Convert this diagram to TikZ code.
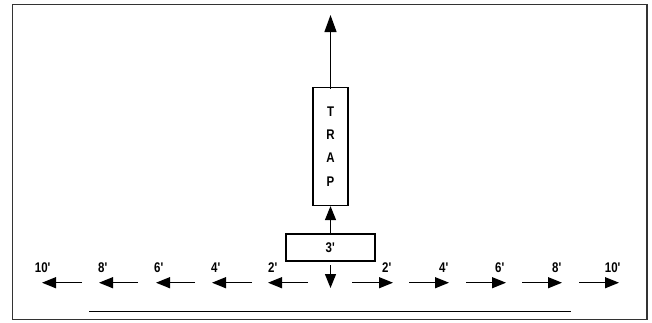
\documentclass[tikz,border=0pt]{standalone}
\usepackage{fontspec}
\setmainfont{Liberation Sans}[FakeStretch=0.82]
\usepackage{tikz}
\usetikzlibrary{shapes,arrows,positioning,calc,arrows.meta}
\newcommand{\ft}{\textquotesingle}

\begin{document}
\begin{tikzpicture}[x=1pt, y=-1pt,
    trap block/.style={draw, line width=1.2pt, rectangle, inner sep=0pt, font=\fontsize{14}{23.3}\selectfont\bfseries},
    dist arrow/.style={line width=1.2pt, -{Triangle[length=14pt, width=11pt]}},
    dist label/.style={font=\fontsize{14}{15}\selectfont\bfseries, inner sep=0pt}]
    \useasboundingbox (0,0) rectangle (652,322);
    \draw[line width=1.3pt, black!80] (12.7,4.7) rectangle (647,319.3);

    \node[trap block, minimum width=35pt, minimum height=118pt, align=center] (trap) at (330.5,146.5) {T\\R\\A\\P};
    \node[trap block, minimum width=89pt, minimum height=27pt] (start) at (330.5,247.5) {3\ft};
    \coordinate (exit) at (330.5,15);
    \coordinate (down top) at (330.5,265);
    \coordinate (down tip) at (330.5,288);

    \draw[line width=1.2pt, -{Triangle[length=17pt, width=12pt]}] ([yshift=-2pt]trap.north) -- (exit);
    \draw[dist arrow] (start) -- (trap);
    \draw[dist arrow] (down top) -- (down tip);

    % left side
    \coordinate (l2 tail) at (308,282.7);  \coordinate (l2 tip) at (268,282.7);
    \coordinate (l4 tail) at (252,282.7);  \coordinate (l4 tip) at (212,282.7);
    \coordinate (l6 tail) at (195,282.7);  \coordinate (l6 tip) at (156,282.7);
    \coordinate (l8 tail) at (138,282.7);  \coordinate (l8 tip) at (99,282.7);
    \coordinate (l10 tail) at (82,282.7);  \coordinate (l10 tip) at (42,282.7);
    \draw[dist arrow] (l2 tail) -- (l2 tip);
    \draw[dist arrow] (l4 tail) -- (l4 tip);
    \draw[dist arrow] (l6 tail) -- (l6 tip);
    \draw[dist arrow] (l8 tail) -- (l8 tip);
    \draw[dist arrow] (l10 tail) -- (l10 tip);
    \node[dist label] (l2) at (273,267.5) {2\ft};
    \node[dist label] (l4) at (216,267.5) {4\ft};
    \node[dist label] (l6) at (159,267.5) {6\ft};
    \node[dist label] (l8) at (103,267.5) {8\ft};
    \node[dist label] (l10) at (43,267.5) {10\ft};

    % right side
    \coordinate (r2 tail) at (352,282.7);  \coordinate (r2 tip) at (393,282.7);
    \coordinate (r4 tail) at (409,282.7);  \coordinate (r4 tip) at (449,282.7);
    \coordinate (r6 tail) at (466,282.7);  \coordinate (r6 tip) at (506,282.7);
    \coordinate (r8 tail) at (522,282.7);  \coordinate (r8 tip) at (562,282.7);
    \coordinate (r10 tail) at (579,282.7); \coordinate (r10 tip) at (619,282.7);
    \draw[dist arrow] (r2 tail) -- (r2 tip);
    \draw[dist arrow] (r4 tail) -- (r4 tip);
    \draw[dist arrow] (r6 tail) -- (r6 tip);
    \draw[dist arrow] (r8 tail) -- (r8 tip);
    \draw[dist arrow] (r10 tail) -- (r10 tip);
    \node[dist label] (r2) at (387,267.5) {2\ft};
    \node[dist label] (r4) at (444,267.5) {4\ft};
    \node[dist label] (r6) at (500,267.5) {6\ft};
    \node[dist label] (r8) at (557,267.5) {8\ft};
    \node[dist label] (r10) at (613,267.5) {10\ft};

    % ground line
    \coordinate (line left) at (89,311.7);
    \coordinate (line right) at (570.7,311.7);
    \draw[line width=1.3pt] (line left) -- (line right);
\end{tikzpicture}
\end{document}
